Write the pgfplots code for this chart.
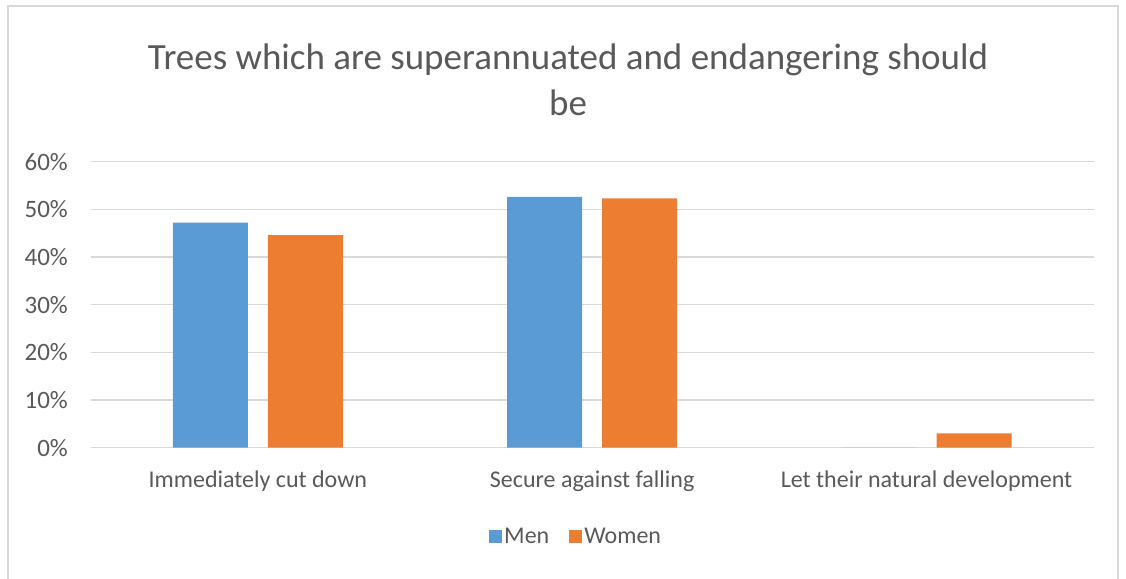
\documentclass[border=0pt]{standalone}
\usepackage{pgfplots}
\pgfplotsset{compat=1.18}
\usepackage{fontspec}
\setmainfont{Carlito}
\definecolor{menblue}{HTML}{5B9BD5}
\definecolor{womenorange}{HTML}{ED7D31}
\definecolor{gridgray}{HTML}{D9D9D9}
\definecolor{textgray}{HTML}{595959}
\definecolor{framegray}{HTML}{D9D9D9}
\begin{document}
\begin{tikzpicture}[x=1pt,y=1pt]
\draw[framegray, line width=1.3pt] (8,-5) -- (8,572) -- (1118,572) -- (1118,-5);
\node[align=center, text=textgray, font=\fontsize{37}{46}\selectfont] at (568,498)
  {Trees which are superannuated and endangering should\\be};
\begin{axis}[
  at={(90.7pt,130.3pt)}, anchor=south west,
  scale only axis, width=1003pt, height=286pt,
  ymin=0, ymax=60, ytick={0,10,...,60},
  xmin=-0.5, xmax=2.5, xtick={0,1,2},
  xticklabels={Immediately cut down, Secure against falling, Let their natural development},
  ybar, bar width=75pt,
  ymajorgrids, grid style={gridgray, line width=1.3pt},
  axis line style={draw=none}, major tick style={draw=none},
  yticklabel={\pgfmathprintnumber{\tick}\%},
  /pgf/number format/assume math mode=true,
  ticklabel style={text=textgray},
  yticklabel style={font=\fontsize{25}{28}\selectfont, anchor=east, inner sep=0pt, xshift=-22.7pt},
  xticklabel style={font=\fontsize{24}{28}\selectfont, anchor=center, inner sep=0pt, yshift=-29pt},
  legend columns=2,
  legend style={at={(0.484,-0.312)}, anchor=center, draw=none, fill=none,
    font=\fontsize{24}{26}\selectfont, text=textgray,
    /tikz/every even column/.append style={column sep=18pt}},
  legend image code/.code={\draw[#1, draw=none] (0pt,-6.5pt) rectangle (13pt,6.5pt);},
]
\addplot[fill=menblue, draw=none, bar shift=-47.5pt] coordinates {(0,47.2) (1,52.6) (2,0)};
\addplot[fill=womenorange, draw=none, bar shift=47.5pt] coordinates {(0,44.6) (1,52.3) (2,3.0)};
\legend{Men, Women}
\end{axis}
\pgfresetboundingbox
\path[use as bounding box] (0,0) rectangle (1126,578);
\end{tikzpicture}
\end{document}
